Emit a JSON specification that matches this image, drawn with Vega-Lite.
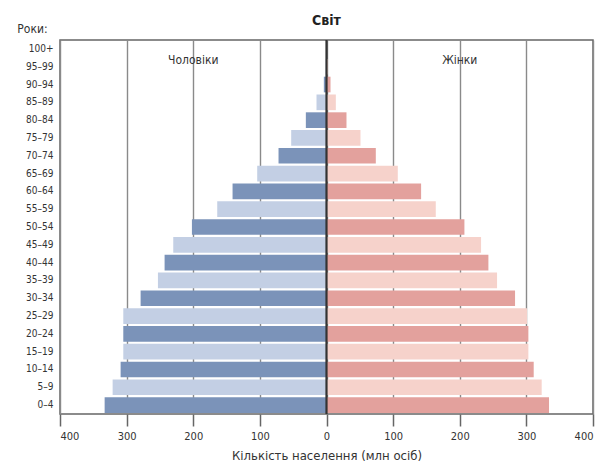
{
  "$schema": "https://vega.github.io/schema/vega-lite/v6.json",
  "autosize": "none",
  "width": 533,
  "height": 374,
  "padding": {"left": 60, "top": 40, "right": 9, "bottom": 61},
  "background": "white",
  "title": {
    "text": "Світ",
    "font": "DejaVu Sans Condensed, Liberation Sans Narrow, sans-serif",
    "fontSize": 14,
    "fontWeight": "bold",
    "color": "#222",
    "anchor": "middle",
    "frame": "group",
    "offset": -6
  },
  "config": {
    "view": {"stroke": "#666", "strokeWidth": 1.5},
    "font": "DejaVu Sans Condensed, Liberation Sans Narrow, sans-serif"
  },
  "data": {
    "values": [
      {"age": "100+", "value": -0.3, "tone": "m-dark"},
      {"age": "95–99", "value": -1.2, "tone": "m-light"},
      {"age": "90–94", "value": -4, "tone": "m-dark"},
      {"age": "85–89", "value": -15, "tone": "m-light"},
      {"age": "80–84", "value": -31, "tone": "m-dark"},
      {"age": "75–79", "value": -53, "tone": "m-light"},
      {"age": "70–74", "value": -72, "tone": "m-dark"},
      {"age": "65–69", "value": -104, "tone": "m-light"},
      {"age": "60–64", "value": -141, "tone": "m-dark"},
      {"age": "55–59", "value": -164, "tone": "m-light"},
      {"age": "50–54", "value": -202, "tone": "m-dark"},
      {"age": "45–49", "value": -230, "tone": "m-light"},
      {"age": "40–44", "value": -243, "tone": "m-dark"},
      {"age": "35–39", "value": -253, "tone": "m-light"},
      {"age": "30–34", "value": -279, "tone": "m-dark"},
      {"age": "25–29", "value": -305, "tone": "m-light"},
      {"age": "20–24", "value": -305, "tone": "m-dark"},
      {"age": "15–19", "value": -305, "tone": "m-light"},
      {"age": "10–14", "value": -309, "tone": "m-dark"},
      {"age": "5–9", "value": -321, "tone": "m-light"},
      {"age": "0–4", "value": -333, "tone": "m-dark"},
      {"age": "100+", "value": 0.5, "tone": "f-dark"},
      {"age": "95–99", "value": 2, "tone": "f-light"},
      {"age": "90–94", "value": 6, "tone": "f-dark"},
      {"age": "85–89", "value": 14, "tone": "f-light"},
      {"age": "80–84", "value": 30, "tone": "f-dark"},
      {"age": "75–79", "value": 51, "tone": "f-light"},
      {"age": "70–74", "value": 74, "tone": "f-dark"},
      {"age": "65–69", "value": 107, "tone": "f-light"},
      {"age": "60–64", "value": 142, "tone": "f-dark"},
      {"age": "55–59", "value": 164, "tone": "f-light"},
      {"age": "50–54", "value": 207, "tone": "f-dark"},
      {"age": "45–49", "value": 232, "tone": "f-light"},
      {"age": "40–44", "value": 243, "tone": "f-dark"},
      {"age": "35–39", "value": 256, "tone": "f-light"},
      {"age": "30–34", "value": 283, "tone": "f-dark"},
      {"age": "25–29", "value": 301, "tone": "f-light"},
      {"age": "20–24", "value": 303, "tone": "f-dark"},
      {"age": "15–19", "value": 303, "tone": "f-light"},
      {"age": "10–14", "value": 311, "tone": "f-dark"},
      {"age": "5–9", "value": 323, "tone": "f-light"},
      {"age": "0–4", "value": 334, "tone": "f-dark"}
    ]
  },
  "layer": [
    {
      "mark": {"type": "bar"},
      "encoding": {
        "y": {
          "field": "age",
          "type": "nominal",
          "scale": {
            "domain": ["100+", "95–99", "90–94", "85–89", "80–84", "75–79", "70–74", "65–69", "60–64", "55–59", "50–54", "45–49", "40–44", "35–39", "30–34", "25–29", "20–24", "15–19", "10–14", "5–9", "0–4"],
            "paddingInner": 0.12,
            "paddingOuter": 0.06
          },
          "axis": {
            "title": "Роки:",
            "titleAngle": 0,
            "titleX": -28,
            "titleY": -5,
            "titleAlign": "center",
            "titleBaseline": "bottom",
            "titleFontSize": 12,
            "titleFontWeight": "normal",
            "titleColor": "#333",
            "labelFontSize": 10,
            "labelColor": "#333",
            "labelPadding": 7,
            "ticks": false,
            "domain": false
          }
        },
        "x": {
          "field": "value",
          "type": "quantitative",
          "scale": {"domain": [-400, 400], "nice": false},
          "axis": {
            "title": "Кількість населення (млн осіб)",
            "titleFontSize": 13,
            "titleFontWeight": "normal",
            "titleColor": "#333",
            "titlePadding": 8,
            "values": [-400, -300, -200, -100, 0, 100, 200, 300, 400],
            "labelExpr": "abs(datum.value)",
            "labelFontSize": 11,
            "labelColor": "#333",
            "labelPadding": 4,
            "tickSize": 12,
            "tickColor": "#666",
            "tickWidth": 1.5,
            "domain": false,
            "grid": true,
            "gridColor": "#8a8a8a",
            "gridWidth": 1.4
          }
        },
        "color": {
          "field": "tone",
          "type": "nominal",
          "scale": {
            "domain": ["m-dark", "m-light", "f-dark", "f-light"],
            "range": ["#7b93b9", "#c3cfe4", "#e3a19d", "#f6d2cb"]
          },
          "legend": null
        }
      }
    },
    {
      "data": {"values": [{"value": 0}]},
      "mark": {"type": "rule", "color": "#333", "strokeWidth": 2.2},
      "encoding": {
        "x": {"field": "value", "type": "quantitative"}
      }
    },
    {
      "data": {
        "values": [
          {"value": -200, "age": "95–99", "label": "Чоловіки"},
          {"value": 200, "age": "95–99", "label": "Жінки"}
        ]
      },
      "mark": {"type": "text", "fontSize": 12, "color": "#333", "dy": -7},
      "encoding": {
        "x": {"field": "value", "type": "quantitative"},
        "y": {"field": "age", "type": "nominal"},
        "text": {"field": "label"}
      }
    }
  ]
}
